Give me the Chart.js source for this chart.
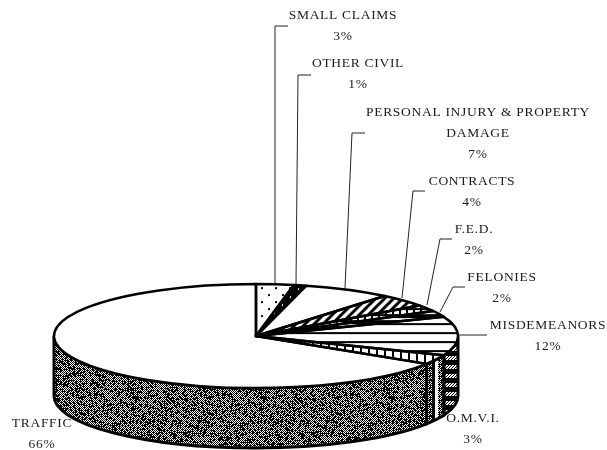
<!DOCTYPE html>
<html>
<head>
<meta charset="utf-8">
<style>
  body { margin: 0; background: #fff; }
  canvas { display: block; }
</style>
<script src="https://cdn.jsdelivr.net/npm/chart.js@4/dist/chart.umd.js"></script>
</head>
<body>
<canvas id="courtChart" width="607" height="450"></canvas>
<script>
// chart values
var categories = ["SMALL CLAIMS", "OTHER CIVIL", "PERSONAL INJURY & PROPERTY DAMAGE", "CONTRACTS", "F.E.D.", "FELONIES", "MISDEMEANORS", "O.M.V.I.", "TRAFFIC"];
var shares = [3, 1, 7, 4, 2, 2, 12, 3, 66];

// label layout: text lines, centre x, first line y
var labelLines = [["SMALL CLAIMS"], ["OTHER CIVIL"], ["PERSONAL INJURY & PROPERTY", "DAMAGE"], ["CONTRACTS"], ["F.E.D."], ["FELONIES"], ["MISDEMEANORS"], ["O.M.V.I."], ["TRAFFIC"]];
var labelX = [343, 358, 478, 472, 474, 502, 548, 473, 42];
var labelY = [15, 63, 112, 181, 229, 277, 325, 418, 423];
var lineGap = 21;

// leader lines, null where the label has none
var leaders = [
    [[288, 26], [275, 26], [275, 284]],
    [[311, 75], [298, 75], [296, 284]],
    [[365, 133], [352, 133], [345, 288]],
    [[425, 191], [413, 191], [402, 298]],
    [[452, 239], [440, 239], [427, 305]],
    [[465, 287], [453, 287], [440, 312]],
    [[487, 335], [459, 335]],
    null,
    null
];

// pie shape on the page
var pieCentreY = 336;
var squash = 52 / 202;
var depth = 60;

function tile(w, h, paint) {
    var c = document.createElement("canvas");
    c.width = w;
    c.height = h;
    var g = c.getContext("2d");
    g.fillStyle = "#fff";
    g.fillRect(0, 0, w, h);
    g.fillStyle = "#000";
    paint(g, w, h);
    return c;
}

// top patterns get squashed by the transform, so undo that
function topPattern(c) {
    var p = document.createElement("canvas").getContext("2d").createPattern(c, "repeat");
    p.setTransform(new DOMMatrix().scale(1, 1 / squash));
    return p;
}

function wallPattern(c) {
    return document.createElement("canvas").getContext("2d").createPattern(c, "repeat");
}

var dots = tile(14, 14, function (g) {
    g.fillRect(2, 2, 2, 2);
    g.fillRect(9, 9, 2, 2);
});
var darkDots = tile(8, 8, function (g, w, h) {
    g.fillRect(0, 0, w, h);
    g.clearRect(2, 2, 1, 2);
});
var diagonal = tile(9, 9, function (g) {
    g.lineWidth = 3;
    g.beginPath();
    for (var i = -9; i <= 18; i += 9) {
        g.moveTo(i - 1, 10);
        g.lineTo(i + 10, -1);
    }
    g.stroke();
});
var beads = tile(7, 6, function (g) {
    g.fillRect(0, 0, 7, 2);
    g.fillRect(0, 0, 2, 6);
});
var heavyBands = tile(6, 6, function (g) {
    g.fillRect(0, 0, 6, 4);
});
var bands = tile(6, 9, function (g) {
    g.fillRect(0, 0, 6, 2);
});
var bars = tile(8, 8, function (g) {
    g.fillRect(0, 0, 2, 8);
});
var plain = tile(2, 2, function () {});

// scanned grey of the side wall
var speckle = tile(128, 128, function (g, w, h) {
    for (var y = 0; y < h; y++) {
        for (var x = 0; x < w; x++) {
            var n = Math.sin(x * 12.9898 + y * 78.233) * 43758.5453;
            n = n - Math.floor(n);
            var clump = Math.sin(x * 0.147 + y * 0.098) + Math.sin(x * 0.344 - y * 0.491) > 1.1;
            if ((x + y) % 2 == 0 || n < (clump ? 0.5 : 0.3)) g.fillRect(x, y, 1, 1);
        }
    }
});
var wallBars = tile(12, 12, function (g) {
    g.drawImage(speckle, 0, 0);
    g.fillRect(0, 0, 3, 12);
    g.fillStyle = "#fff";
    g.fillRect(3, 0, 3, 12);
});
var wallBands = tile(12, 9, function (g) {
    g.fillRect(0, 0, 12, 5);
    for (var y = 5; y < 9; y++) {
        for (var x = 0; x < 12; x++) {
            if ((x + y) % 3 == 0) g.fillRect(x, y, 1, 1);
        }
    }
});

var topFills = [dots, darkDots, plain, diagonal, beads, heavyBands, bands, bars, plain].map(topPattern);
var wallFills = [plain, plain, plain, plain, plain, plain, wallBands, wallBars, speckle].map(wallPattern);

var pie3d = {
    id: "pie3d",
    beforeDatasetsDraw: function (chart) {
        var ctx = chart.ctx;
        var arcs = chart.getDatasetMeta(0).data;
        // side wall, only the front half shows
        arcs.forEach(function (el, i) {
            var from = Math.max(el.startAngle, 0);
            var to = Math.min(el.endAngle, Math.PI);
            if (to <= from) return;
            var ry = el.outerRadius * squash;
            ctx.beginPath();
            ctx.ellipse(el.x, pieCentreY, el.outerRadius, ry, 0, from, to);
            ctx.ellipse(el.x, pieCentreY + depth, el.outerRadius, ry, 0, to, from, true);
            ctx.closePath();
            ctx.fillStyle = wallFills[i];
            ctx.fill();
            ctx.strokeStyle = "#000";
            ctx.lineWidth = 3;
            ctx.stroke();
        });
        ctx.save();
        ctx.translate(0, pieCentreY);
        ctx.scale(1, squash);
        ctx.translate(0, -arcs[0].y);
    },
    afterDatasetsDraw: function (chart) {
        var ctx = chart.ctx;
        ctx.restore();
        chart.getDatasetMeta(0).data.forEach(function (el) {
            ctx.beginPath();
            ctx.moveTo(el.x, pieCentreY);
            ctx.ellipse(el.x, pieCentreY, el.outerRadius, el.outerRadius * squash, 0, el.startAngle, el.endAngle);
            ctx.closePath();
            ctx.strokeStyle = "#000";
            ctx.lineWidth = 2.5;
            ctx.lineJoin = "round";
            ctx.stroke();
        });
    },
    afterDraw: function (chart) {
        var ctx = chart.ctx;
        ctx.save();
        ctx.strokeStyle = "#222";
        ctx.lineWidth = 1;
        leaders.forEach(function (pts) {
            if (!pts) return;
            ctx.beginPath();
            pts.forEach(function (p, i) {
                if (i == 0) ctx.moveTo(p[0], p[1]);
                else ctx.lineTo(p[0], p[1]);
            });
            ctx.stroke();
        });
        ctx.fillStyle = "#1a1a1a";
        ctx.font = "13.5px 'Liberation Serif'";
        ctx.letterSpacing = "0.7px";
        ctx.textAlign = "center";
        ctx.textBaseline = "middle";
        labelLines.forEach(function (lines, i) {
            var all = lines.concat(shares[i] + "%");
            all.forEach(function (line, n) {
                ctx.fillText(line, labelX[i], labelY[i] + n * lineGap);
            });
        });
        ctx.restore();
    }
};

var myChart = new Chart(document.getElementById("courtChart"), {
    type: "pie",
    data: {
        labels: categories,
        datasets: [{
            data: shares,
            backgroundColor: topFills,
            borderWidth: 0,
            hoverOffset: 0,
            clip: false
        }]
    },
    options: {
        responsive: false,
        animation: false,
        layout: { padding: { left: 54, right: 149, top: 23, bottom: 23 } },
        plugins: {
            legend: { display: false },
            tooltip: { enabled: false }
        }
    },
    plugins: [pie3d]
});
</script>
</body>
</html>
